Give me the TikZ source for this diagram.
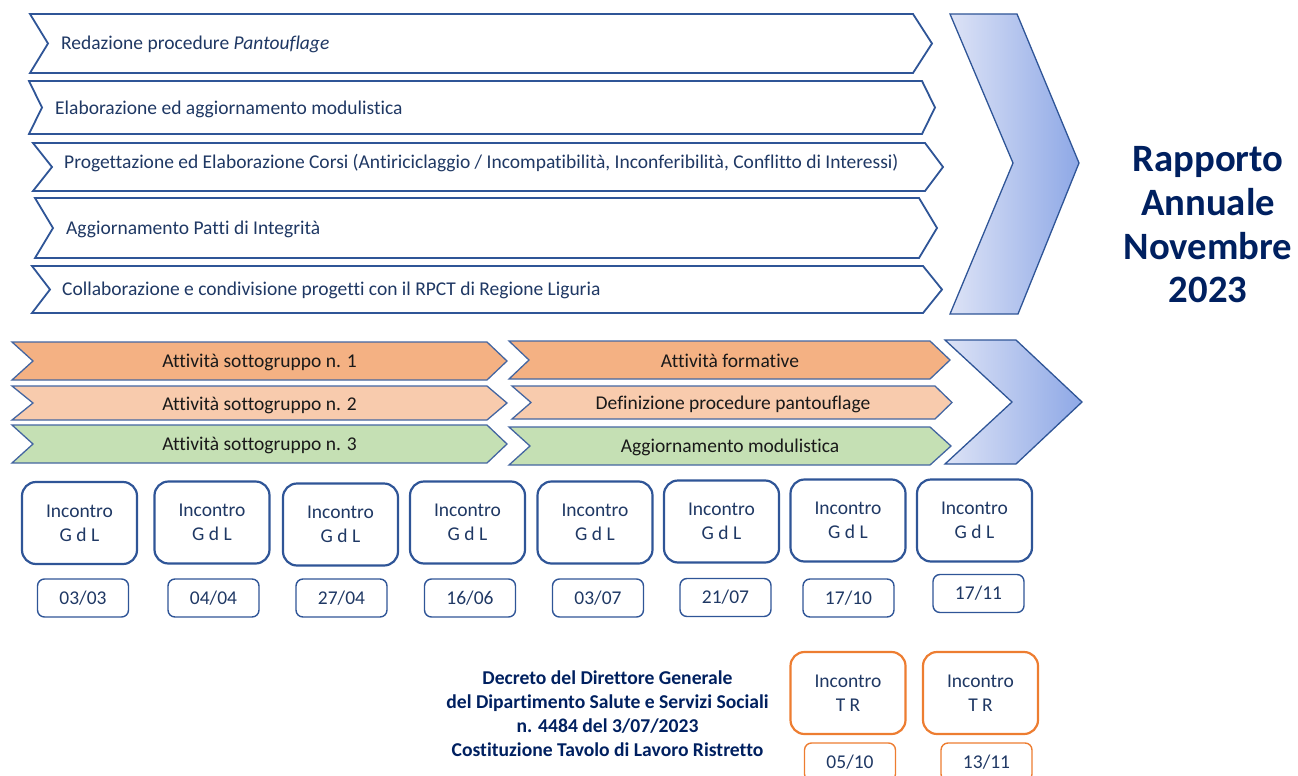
\documentclass[tikz,border=0pt]{standalone}
\usepackage{fontspec}
\setmainfont{Carlito}[Ligatures=NoCommon]
\usetikzlibrary{positioning}

\definecolor{blunotte}{HTML}{1F3864}
\definecolor{blutitolo}{HTML}{002060}
\definecolor{bordo}{HTML}{2F5597}
\definecolor{arancio}{HTML}{F4B183}
\definecolor{pesca}{HTML}{F8CBAD}
\definecolor{verde}{HTML}{C5E0B4}
\definecolor{arancione}{HTML}{ED7D31}
\definecolor{azzurrino}{HTML}{DDE3F6}
\definecolor{azzurro}{HTML}{8EA8E6}

\begin{document}
\begin{tikzpicture}[x=1pt,y=-1pt,
    testo/.style={font=\fontsize{19.5}{24}\selectfont,text=blunotte,inner sep=0pt},
    nero/.style={font=\fontsize{19.5}{24}\selectfont,text=black!90,inner sep=0pt},
    freccia/.style={draw=bordo,line width=1.8pt,fill=white},
    fascia/.style={draw=bordo!90,line width=1.3pt},
    gallone/.style={draw=bordo,line width=1.3pt,left color=azzurrino,right color=azzurro},
    incontro/.style={draw=bordo,line width=2.2pt,rounded corners=14pt,
      minimum width=115pt,minimum height=82pt,inner sep=0pt,align=center,
      font=\fontsize{19.5}{24}\selectfont,text=blunotte},
    data/.style={draw=bordo,line width=1.4pt,rounded corners=7pt,
      minimum width=91pt,minimum height=38pt,inner sep=0pt,
      font=\fontsize{19.5}{24}\selectfont,text=blunotte},
    tavolo/.style={incontro,draw=arancione},
    datatavolo/.style={data,draw=arancione},
    grassetto/.style={align=center,text=blutitolo,inner sep=0pt}]
    \path[use as bounding box] (0,0) rectangle (1298,776);
    \clip (0,0) rectangle (1298,776);

    % attivita' del gruppo di lavoro
    \foreach \l/\n/\r/\t/\a/\b in {
        30/48/913/932/14/73,
        29/42/922/935/81/134,
        33/52/925/943/143/191,
        35/53/919/937/198/258,
        32/50/923/942/266/313}{
      \draw[freccia] (\l,\a) -- (\r,\a) -- (\t,{(\a+\b)/2}) -- (\r,\b)
        -- (\l,\b) -- (\n,{(\a+\b)/2}) -- cycle;
    }
    \node[testo,anchor=base west] (voce1) at (61,50) {Redazione procedure \textit{Pantouflage}};
    \node[testo,anchor=base west] (voce2) at (55,114) {Elaborazione ed aggiornamento modulistica};
    \node[testo,anchor=base west] (voce3) at (64,168) {Progettazione ed Elaborazione Corsi (Antiriciclaggio / Incompatibilità, Inconferibilità, Conflitto di Interessi)};
    \node[testo,anchor=base west] (voce4) at (66,234) {Aggiornamento Patti di Integrità};
    \node[testo,anchor=base west] (voce5) at (62,295) {Collaborazione e condivisione progetti con il RPCT di Regione Liguria};

    \draw[gallone] (950,14) -- (1017,14) -- (1079,163) -- (1018,314)
      -- (950,314) -- (1013,163) -- cycle;
    \node[grassetto,font=\bfseries\fontsize{38.7}{43.7}\selectfont] (rapporto) at (1208,225)
      {Rapporto\\Annuale\\Novembre\\2023};

    % sottogruppi e tavolo ristretto
    \foreach \l/\n/\r/\t/\a/\b/\c in {
        12/33/487/507/342/380/arancio,
        12/33/487/507/386/420/pesca,
        12/33/487/507/425/463/verde,
        509/529/930/950/341/379/arancio,
        512/531/935/952/386/419/pesca,
        509/530/930/951/427/465/verde}{
      \draw[fascia,fill=\c] (\l,\a) -- (\r,\a) -- (\t,{(\a+\b)/2}) -- (\r,\b)
        -- (\l,\b) -- (\n,{(\a+\b)/2}) -- cycle;
    }
    \node[nero,anchor=base] (sotto1) at (259.5,367) {Attività sottogruppo n. 1};
    \node[nero,anchor=base] (sotto2) at (259.5,410) {Attività sottogruppo n. 2};
    \node[nero,anchor=base] (sotto3) at (259.5,450) {Attività sottogruppo n. 3};
    \node[nero,anchor=base] (forma) at (730,367) {Attività formative};
    \node[nero,anchor=base] (pantou) at (733,409) {Definizione procedure pantouflage};
    \node[nero,anchor=base] (moduli) at (730,452) {Aggiornamento modulistica};

    \draw[gallone] (945,340) -- (1016,340) -- (1082,402) -- (1016,464)
      -- (945,464) -- (1012,402) -- cycle;

    % incontri G d L con le date
    \foreach \i/\x/\y/\dx/\dy/\gio/\mese in {
        1/79.5/523/83/598/03/03,
        2/212/522.5/213.5/598/04/04,
        3/340.5/524.5/341.5/598/27/04,
        4/467.5/522.5/470/598/16/06,
        5/595/522.5/598/598/03/07,
        6/721.5/521.5/725.5/597.5/21/07,
        7/848/520.5/848.5/598/17/10,
        8/974.5/520.5/978.5/593.5/17/11}{
      \node[incontro] (gdl\i) at (\x,\y) {Incontro\\G d L};
      \node[data] (data\i) at (\dx,\dy) {\gio/\mese};
    }

    \node[grassetto,font=\bfseries\fontsize{19.6}{24}\selectfont] (decreto) at (607.5,714)
      {Decreto del Direttore Generale\\del Dipartimento Salute e Servizi Sociali\\n. 4484 del 3/07/2023\\Costituzione Tavolo di Lavoro Ristretto};

    \node[tavolo] (tr1) at (848,693) {Incontro\\T R};
    \node[tavolo] (tr2) at (980.5,693) {Incontro\\T R};
    \node[datatavolo] (datatr1) at (850,762) {05/10};
    \node[datatavolo] (datatr2) at (986.5,762) {13/11};
\end{tikzpicture}
\end{document}
